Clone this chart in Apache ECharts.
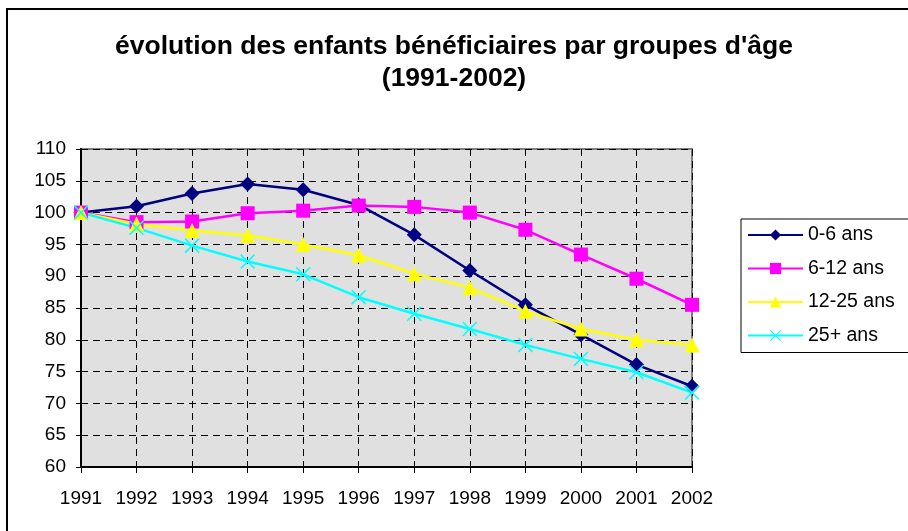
<!DOCTYPE html>
<html>
<head>
<meta charset="utf-8">
<script src="https://cdn.jsdelivr.net/npm/echarts@6/dist/echarts.min.js"></script>
<style>
  html, body { margin: 0; padding: 0; background: #fff; }
  #chart { width: 908px; height: 531px; }
</style>
</head>
<body>
<div id="chart"></div>
<script>
// data
var years = ['1991', '1992', '1993', '1994', '1995', '1996', '1997', '1998', '1999', '2000', '2001', '2002'];
var age0to6 = [100, 101.0, 103.0, 104.5, 103.6, 101.2, 96.5, 90.9, 85.5, 80.8, 76.1, 72.7];
var age6to12 = [100, 98.5, 98.6, 99.9, 100.3, 101.1, 100.9, 100.0, 97.3, 93.4, 89.6, 85.5];
var age12to25 = [100, 98.2, 97.2, 96.4, 95.0, 93.3, 90.4, 88.2, 84.5, 81.7, 80.0, 79.2];
var age25plus = [100, 97.6, 94.8, 92.3, 90.3, 86.7, 84.1, 81.7, 79.2, 77.0, 74.9, 71.7];

var crossPath = 'path://M0,1L1,0L7,6L13,0L14,1L8,7L14,13L13,14L7,8L1,14L0,13L6,7Z';
var font = 'Liberation Sans, Arial, sans-serif';

function mkSeries(name, data, color, symbol, size) {
    return {
        name: name,
        type: 'line',
        data: data,
        symbol: symbol,
        symbolSize: size,
        showSymbol: true,
        lineStyle: { color: color, width: 2.5 },
        itemStyle: { color: color },
        emphasis: { disabled: true },
        animation: false
    };
}

var chart = echarts.init(document.getElementById('chart'));
var option = {
    backgroundColor: '#ffffff',
    textStyle: { fontFamily: font },
    graphic: [{
        type: 'rect',
        shape: { x: 7, y: 9, width: 920, height: 540 },
        style: { fill: null, stroke: '#000', lineWidth: 2 },
        silent: true,
        z: -1
    }],
    title: {
        text: "évolution des enfants bénéficiaires par groupes d'âge\n(1991-2002)",
        left: 'center',
        top: 26,
        textStyle: {
            fontFamily: font,
            fontSize: 26.5,
            fontWeight: 'bold',
            color: '#000',
            lineHeight: 32
        }
    },
    legend: {
        orient: 'vertical',
        left: 741,
        top: 219,
        padding: [6, 20, 7, 6],
        itemWidth: 55,
        itemHeight: 14,
        itemGap: 13.5,
        borderColor: '#000',
        borderWidth: 1,
        backgroundColor: '#fff',
        textStyle: { fontFamily: font, fontSize: 19.5, lineHeight: 20, color: '#000' },
        data: ['0-6 ans', '6-12 ans', '12-25 ans', '25+ ans']
    },
    grid: {
        left: 81,
        right: 216,
        top: 149,
        bottom: 64,
        show: true,
        backgroundColor: '#e0e0e0',
        borderColor: '#808080',
        borderWidth: 2
    },
    xAxis: {
        type: 'category',
        data: years,
        boundaryGap: false,
        axisLine: { lineStyle: { color: '#000', width: 2 } },
        axisTick: { show: true, length: 6, lineStyle: { color: '#000' } },
        axisLabel: { fontSize: 19, color: '#000', margin: 22, fontFamily: font },
        splitLine: { show: true, lineStyle: { color: '#000', type: [7, 5], width: 1 } }
    },
    yAxis: {
        type: 'value',
        min: 60,
        max: 110,
        interval: 5,
        axisLine: { show: true, lineStyle: { color: '#000', width: 2 } },
        axisTick: { show: true, length: 5, lineStyle: { color: '#000' } },
        axisLabel: { fontSize: 19, color: '#000', margin: 15, fontFamily: font },
        splitLine: { show: true, lineStyle: { color: '#000', type: [7, 5], width: 1 } }
    },
    series: [
        mkSeries('0-6 ans', age0to6, '#000080', 'diamond', 15),
        mkSeries('6-12 ans', age6to12, '#ff00ff', 'rect', 14),
        mkSeries('12-25 ans', age12to25, '#ffff00', 'triangle', 15),
        mkSeries('25+ ans', age25plus, '#00ffff', crossPath, 15)
    ]
};
chart.setOption(option);
</script>
</body>
</html>
